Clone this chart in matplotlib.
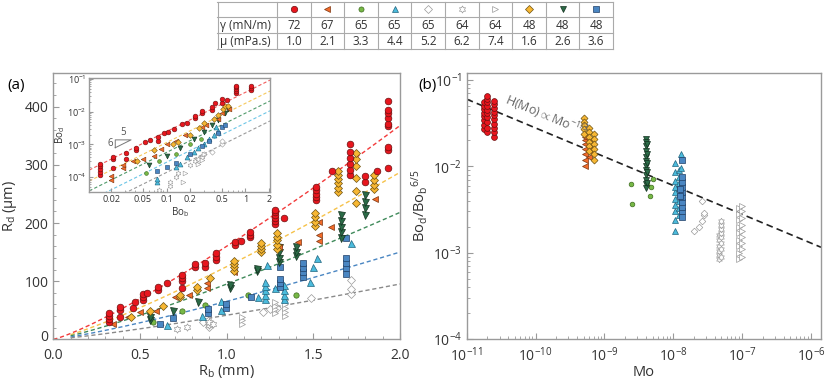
import numpy as np
import matplotlib
matplotlib.use('Agg')
import matplotlib.pyplot as plt
from matplotlib.path import Path
from matplotlib.transforms import ScaledTranslation
from matplotlib.ticker import MultipleLocator, LogLocator, NullFormatter, FixedLocator, LogFormatterSciNotation

plt.rcParams['font.family'] = ['Open Sans', 'DejaVu Sans']
plt.rcParams['mathtext.fontset'] = 'custom'
plt.rcParams['mathtext.rm'] = 'Open Sans'
plt.rcParams['mathtext.it'] = 'Open Sans:italic'
plt.rcParams['mathtext.bf'] = 'Open Sans:bold'

# ---------------- fluid table ----------------
gamma_vals = ['72', '67', '65', '65', '65', '64', '64', '48', '48', '48']
mu_vals = ['1.0', '2.1', '3.3', '4.4', '5.2', '6.2', '7.4', '1.6', '2.6', '3.6']
series_keys = ['red', 'orange', 'green', 'lblue', 'odia', 'ostar', 'otri', 'yellow', 'dgreen', 'sblue']

# ---------------- panel (a): R_d (um) vs R_b (mm) ----------------
a_red_rb = [0.32, 0.32, 0.32, 0.32, 0.385, 0.385, 0.385, 0.46, 0.47, 0.52, 0.52, 0.52, 0.54, 0.605, 0.605, 0.655,
            0.74, 0.74, 0.74, 0.74, 0.815, 0.815, 0.875, 0.875, 0.94, 0.94, 0.94, 1.05, 1.05, 1.08, 1.135, 1.135, 1.135,
            1.28, 1.28, 1.28, 1.28, 1.28, 1.28, 1.333, 1.516, 1.516, 1.516, 1.516, 1.516, 1.61,
            1.71, 1.71, 1.71, 1.71, 1.71, 1.71, 1.80, 1.80, 1.87,
            1.93, 1.93, 1.93, 1.93, 1.93, 1.93, 1.93, 1.93, 1.93]
a_red_rd = [30, 35, 40, 45, 38, 50, 55, 53, 65, 68, 72, 78, 79, 85, 90, 96,
            88, 100, 105, 110, 124, 130, 125, 131, 136, 142, 148, 162, 168, 169, 176, 180, 185,
            198, 204, 209, 214, 219, 223, 208, 240, 245, 250, 256, 262, 290,
            282, 292, 302, 312, 322, 336, 270, 281, 289,
            294, 326, 331, 366, 371, 380, 389, 394, 410]
a_yel_rb = [0.45, 0.56, 0.635, 0.73, 0.73, 0.83, 0.83, 0.905, 1.044, 1.044, 1.044, 1.044, 1.197, 1.197, 1.197, 1.197,
            1.29, 1.29, 1.29, 1.29, 1.29, 1.51, 1.51, 1.51, 1.51, 1.64, 1.64, 1.64, 1.64, 1.64, 1.64,
            1.747, 1.747, 1.747, 1.747, 1.747, 1.747, 1.85, 1.85, 1.85, 1.85]
a_yel_rd = [39, 48, 57, 73, 77, 85, 90, 106, 118, 124, 130, 135, 150, 155, 160, 165,
            155, 162, 170, 176, 182, 195, 202, 210, 218, 254, 261, 268, 275, 283, 290,
            235, 255, 277, 298, 310, 320, 258, 266, 274, 282]
a_orn_rb = [0.346, 0.43, 0.50, 0.59, 0.70, 0.78, 0.885, 0.885, 1.04, 1.30, 1.41, 1.535, 1.535, 1.535, 1.60, 1.856]
a_orn_rd = [27, 39, 47, 49, 72, 76, 88, 96, 116, 158, 168, 169, 179, 202, 194, 241]
a_grn_rb = [0.575, 0.745, 0.875, 1.125, 1.40]
a_grn_rd = [30, 48, 59, 76, 76]
a_dgr_rb = [0.56, 0.56, 0.69, 0.835, 1.02, 1.02, 1.177, 1.177, 1.30, 1.30, 1.30, 1.30, 1.40, 1.40, 1.40,
            1.658, 1.658, 1.658, 1.658, 1.658, 1.80, 1.80, 1.80, 1.80]
a_dgr_rd = [33, 38, 49, 65, 88, 93, 117, 121, 133, 140, 150, 159, 143, 150, 158,
            174, 184, 194, 204, 214, 214, 225, 236, 248]
a_lbl_rb = [0.655, 0.86, 0.965, 0.965, 1.18, 1.22, 1.22, 1.22, 1.22, 1.22, 1.23, 1.28,
            1.333, 1.333, 1.333, 1.333, 1.48, 1.50, 1.523, 1.72]
a_lbl_rd = [25, 40, 51, 66, 73, 70, 77, 84, 91, 99, 127, 88, 70, 77, 85, 93, 99, 125, 139, 166]
a_sbl_rb = [0.615, 0.69, 0.895, 0.895, 0.995, 0.995, 1.14, 1.31, 1.31, 1.31, 1.31, 1.443, 1.443, 1.443, 1.443,
            1.687, 1.687, 1.687, 1.687, 1.69]
a_sbl_rd = [27, 36, 45, 52, 53, 60, 73, 90, 97, 104, 125, 108, 116, 123, 131, 113, 122, 131, 140, 174]
a_odi_rb = [0.865, 0.90, 0.90, 1.21, 1.25, 1.29, 1.487, 1.72, 1.72, 1.72]
a_odi_rd = [30, 22, 27, 47, 52, 54, 71, 78, 87, 102]
a_ost_rb = [0.712, 0.77, 0.89, 0.90, 0.90, 0.92]
a_ost_rd = [17, 22, 33, 24, 29, 27]
a_ort_rb = [1.087, 1.087, 1.087, 1.28, 1.28, 1.28, 1.28, 1.337, 1.337, 1.337, 1.337, 1.337]
a_ort_rd = [27, 33, 39, 46, 52, 58, 64, 40, 47, 54, 61, 68]

# power-law (6/5) fit prefactors, panel (a) and inset
fit_a_coef = [160, 125, 95, 65.3, 41.4]
fit_a_start = [0.0, 0.1, 0.1, 0.1, 0.1]
fit_in_coef = [0.039, 0.018, 0.009, 0.0045, 0.0022]
fit_exp = 6 / 5

# ---------------- inset: Bo_d vs Bo_b ----------------
i_red_bob = [0.0145] * 5 + [0.0207, 0.0207, 0.021, 0.031, 0.031, 0.041, 0.041, 0.054, 0.061, 0.077, 0.077,
             0.093, 0.103, 0.125, 0.158, 0.183, 0.228, 0.228, 0.28, 0.28, 0.376, 0.376, 0.41, 0.50, 0.50, 0.58] \
            + [0.77] * 5 + [1.17] * 3
i_red_bod = [1.15e-4, 1.4e-4, 1.8e-4, 2.2e-4, 2.6e-4, 3.5e-4, 4.0e-4, 1.9e-4, 3.5e-4, 5.3e-4, 6.7e-4, 8.0e-4,
             1.2e-3, 1.35e-3, 1.3e-3, 1.7e-3, 2.3e-3, 2.4e-3, 2.9e-3, 4.1e-3, 4.6e-3, 6.3e-3, 7.4e-3, 9e-3,
             1.05e-2, 1.1e-2, 1.4e-2, 1.9e-2, 1.8e-2, 2.4e-2, 2.2e-2, 3.7e-2, 4.3e-2, 4.9e-2, 5.5e-2, 6.2e-2,
             4.5e-2, 5.3e-2, 6.2e-2]
i_yel_bob = [0.042, 0.07, 0.12, 0.14, 0.2, 0.26, 0.3, 0.4, 0.45, 0.52, 0.55, 0.6]
i_yel_bod = [3.0e-4, 6.5e-4, 1.0e-3, 1.2e-3, 2.0e-3, 3.2e-3, 4.5e-3, 6e-3, 8e-3, 1.2e-2, 1.45e-2, 1.5e-2]
i_orn_bob = [0.0195, 0.0195, 0.028, 0.028, 0.038, 0.05, 0.07, 0.085, 0.1, 0.13, 0.17, 0.28, 0.32, 0.45, 0.5, 0.62]
i_orn_bod = [8e-5, 1.05e-4, 1.9e-4, 2.3e-4, 3.0e-4, 3.5e-4, 4.5e-4, 7e-4, 1.0e-3, 1.3e-3, 2.0e-3, 3.5e-3,
             4.0e-3, 6e-3, 9e-3, 1.2e-2]
i_grn_bob = [0.055, 0.08, 0.13, 0.2, 0.27]
i_grn_bod = [1.3e-4, 3.0e-4, 5e-4, 1.0e-3, 1.5e-3]
i_dgr_bob = [0.06, 0.1, 0.15, 0.22, 0.3, 0.38, 0.45, 0.55, 0.6]
i_dgr_bod = [2.4e-4, 4.5e-4, 8e-4, 1.5e-3, 2.4e-3, 4e-3, 5.5e-3, 9e-3, 1.2e-2]
i_lbl_bob = [0.075, 0.075, 0.13, 0.15, 0.18, 0.22, 0.25, 0.3, 0.35, 0.4, 0.45, 0.43]
i_lbl_bod = [7e-5, 9e-5, 2e-4, 2.5e-4, 4e-4, 6e-4, 8e-4, 1e-3, 1.5e-3, 2e-3, 2.6e-3, 3.5e-3]
i_sbl_bob = [0.075, 0.1, 0.13, 0.2, 0.28, 0.35, 0.45, 0.5, 0.55]
i_sbl_bod = [1.5e-4, 2e-4, 2.7e-4, 5e-4, 9e-4, 1.3e-3, 2.3e-3, 3.3e-3, 4e-3]
i_odi_bob = [0.25, 0.27, 0.3, 0.38, 0.5, 0.5]
i_odi_bod = [3e-4, 4e-4, 5e-4, 6e-4, 1.0e-3, 1.25e-3]
i_ost_bob = [0.08, 0.11, 0.11, 0.13, 0.14, 0.2, 0.23, 0.25, 0.28]
i_ost_bod = [4e-5, 5.5e-5, 7e-5, 1.0e-4, 1.3e-4, 2.4e-4, 3e-4, 3.6e-4, 4.2e-4]
i_ort_bob = [0.16, 0.17, 0.25, 0.28, 0.3]
i_ort_bod = [7e-5, 1.3e-4, 2.5e-4, 3.3e-4, 5e-4]

# ---------------- panel (b): Bo_d/Bo_b^(6/5) vs Mo ----------------
b_red_mo = [1.8e-11] * 8 + [2.0e-11] * 10 + [2.5e-11] * 10
b_red_y = [0.027, 0.030, 0.034, 0.038, 0.042, 0.046, 0.050, 0.055,
           0.025, 0.028, 0.033, 0.037, 0.041, 0.045, 0.050, 0.055, 0.060, 0.065,
           0.022, 0.025, 0.028, 0.031, 0.035, 0.039, 0.043, 0.048, 0.053, 0.057]
b_orn_mo = [5.2e-10] * 7 + [6.0e-10] * 4
b_orn_y = [0.0102, 0.012, 0.014, 0.016, 0.018, 0.020, 0.022, 0.013, 0.015, 0.017, 0.019]
b_yel_mo = [5.0e-10] * 5 + [6.0e-10] * 6 + [7.0e-10] * 6
b_yel_y = [0.036, 0.033, 0.030, 0.027, 0.024, 0.028, 0.025, 0.022, 0.019, 0.017, 0.015,
           0.024, 0.021, 0.018, 0.016, 0.014, 0.012]
b_dgr_mo = [4.0e-9] * 12 + [4.2e-9] * 5
b_dgr_y = [0.021, 0.019, 0.017, 0.015, 0.013, 0.0115, 0.010, 0.009, 0.008, 0.007, 0.0063, 0.0056,
           0.018, 0.014, 0.011, 0.0085, 0.0065]
b_grn_mo = [2.4e-9, 2.55e-9, 4.1e-9, 4.6e-9, 4.7e-9, 5.1e-9]
b_grn_y = [0.0063, 0.0037, 0.0062, 0.0045, 0.0057, 0.0072]
b_lbl_mo = [1.05e-8] * 10 + [1.2e-8] * 8 + [1.3e-8] * 3
b_lbl_y = [0.0018, 0.0024, 0.003, 0.0036, 0.0042, 0.005, 0.0058, 0.0068, 0.0085, 0.011,
           0.0027, 0.0033, 0.004, 0.0048, 0.0056, 0.0065, 0.0075, 0.009, 0.014, 0.0095, 0.006]
b_sbl_mo = [1.35e-8] * 10 + [1.25e-8] * 2
b_sbl_y = [0.0026, 0.003, 0.0034, 0.0039, 0.0044, 0.005, 0.0057, 0.0066, 0.0076, 0.0118, 0.0045, 0.0055]
b_odi_mo = [2.0e-8, 2.4e-8, 2.6e-8, 2.8e-8, 2.8e-8, 2.65e-8]
b_odi_y = [0.0018, 0.0020, 0.0023, 0.0027, 0.0029, 0.0040]
b_ost_mo = [4.6e-8] * 6 + [5.0e-8] * 8
b_ost_y = [0.00085, 0.00095, 0.00105, 0.0012, 0.0014, 0.0016,
           0.0009, 0.0011, 0.0013, 0.0015, 0.0017, 0.0019, 0.0021, 0.0023]
b_ort_mo = [9.0e-8] * 9 + [1.0e-7] * 9
b_ort_y = [0.00085, 0.001, 0.0012, 0.0014, 0.0017, 0.002, 0.0024, 0.0028, 0.0033,
           0.0009, 0.0011, 0.0013, 0.0015, 0.0018, 0.0021, 0.0025, 0.003, 0.0035]
b_line_x = [1e-11, 1.4e-6]
b_line_c = 0.06   # value at Mo = 1e-11
b_line_exp = -1 / 3
b_xticks = [1e-11, 1e-10, 1e-9, 1e-8, 1e-7, 1e-6]
b_yticks = [1e-4, 1e-3, 1e-2, 1e-1]
inset_yticks = [1e-4, 1e-3, 1e-2, 1e-1]

# ---------------- styles ----------------
star_verts = []
for k in range(12):
    ang = np.pi / 2 + k * np.pi / 6
    r = 1.0 if k % 2 == 0 else 0.577
    star_verts.append((r * np.cos(ang), r * np.sin(ang)))
star_verts.append(star_verts[0])
star_marker = Path(star_verts, closed=True)

GRAY = '#9a9a9a'
style = {
    'red':    dict(marker='o', mfc='#e8161e', mec='#6a1010', scale=1.0),
    'orange': dict(marker='<', mfc='#f26b2a', mec='#7a3510', scale=1.0),
    'green':  dict(marker='o', mfc='#77b846', mec='#3d6b1f', scale=0.8),
    'lblue':  dict(marker='^', mfc='#4bbbdc', mec='#22657e', scale=1.05),
    'odia':   dict(marker='D', mfc='white', mec=GRAY, scale=0.8),
    'ostar':  dict(marker=star_marker, mfc='white', mec=GRAY, scale=1.1),
    'otri':   dict(marker='>', mfc='white', mec=GRAY, scale=1.0),
    'yellow': dict(marker='D', mfc='#f7b733', mec='#6e5212', scale=0.85),
    'dgreen': dict(marker='v', mfc='#2b6b47', mec='#13301f', scale=1.05),
    'sblue':  dict(marker='s', mfc='#4a86c2', mec='#1f3f66', scale=0.9),
}
fit_colors_a = ['#f23a3a', '#f6c24a', '#3f8a5a', '#4a86c2', '#8a8a8a']
fit_colors_in = ['#f25a5a', '#f6c85a', '#4f9a6a', '#6cc6e6', '#9a9a9a']

SPINE = '#9a9a9a'
TXT = '#333333'


def pts(ax, x, y, key, ms, lw=0.5, z=3):
    st = style[key]
    ax.plot(x, y, ls='none', marker=st['marker'], ms=ms * st['scale'], mfc=st['mfc'],
            mec=st['mec'], mew=lw, zorder=z)


def style_axes(ax, fs=10):
    for s in ax.spines.values():
        s.set_color(SPINE)
        s.set_linewidth(1.0)
    ax.tick_params(which='both', direction='in', colors=SPINE, labelcolor=TXT, labelsize=fs)
    ax.tick_params(which='major', length=4, width=0.8)
    ax.tick_params(which='minor', length=2, width=0.6)


def log_minors(lo_exp, hi_exp):
    return [m * 10.0 ** e for e in range(lo_exp, hi_exp) for m in range(2, 10)]


fig = plt.figure(figsize=(8.31, 3.79), dpi=100)

# ---------- panel (a) ----------
axa = fig.add_axes([53.3 / 831, 1 - 339.3 / 379, 346.7 / 831, 266.3 / 379])
style_axes(axa)
axa.tick_params(axis='x', which='major', pad=6)
for c, x0, col in zip(fit_a_coef, fit_a_start, fit_colors_a):
    xx = np.linspace(x0, 2.0, 100)
    axa.plot(xx, c * xx ** fit_exp, ls=(0, (3, 2)), lw=1.0, color=col, zorder=1)

a_sets = [('odia', a_odi_rb, a_odi_rd), ('ostar', a_ost_rb, a_ost_rd), ('otri', a_ort_rb, a_ort_rd),
          ('green', a_grn_rb, a_grn_rd), ('lblue', a_lbl_rb, a_lbl_rd), ('sblue', a_sbl_rb, a_sbl_rd),
          ('dgreen', a_dgr_rb, a_dgr_rd), ('orange', a_orn_rb, a_orn_rd), ('yellow', a_yel_rb, a_yel_rd),
          ('red', a_red_rb, a_red_rd)]
for key, x, y in a_sets:
    pts(axa, x, y, key, ms=4.8)
axa.set_xlim(0, 2.0)
axa.set_ylim(0, 458)
axa.xaxis.set_major_locator(FixedLocator([0.0, 0.5, 1.0, 1.5, 2.0]))
axa.xaxis.set_minor_locator(FixedLocator([v / 10 for v in range(1, 20) if v % 5]))
axa.yaxis.set_major_locator(FixedLocator([0, 100, 200, 300, 400]))
axa.yaxis.set_minor_locator(FixedLocator([v for v in range(20, 460, 20) if v % 100]))
axa.xaxis.set_major_formatter(matplotlib.ticker.FormatStrFormatter('%.1f'))
axa.set_xlabel('R$_\\mathrm{b}$ (mm)', fontsize=10.5, color=TXT, labelpad=0)
axa.set_ylabel('R$_\\mathrm{d}$ (μm)', fontsize=10.5, color=TXT, labelpad=4)
fig.text(7 / 831, 1 - 85 / 379, '(a)', fontsize=11, color='black', va='center', ha='left')

# ---------- inset ----------
axi = fig.add_axes([89.3 / 831, 1 - 192 / 379, 180.7 / 831, 114 / 379])
axi.set_facecolor('white')
style_axes(axi, fs=6.5)
axi.set_xscale('log')
axi.set_yscale('log')
xx = np.logspace(np.log10(0.0105), np.log10(2.05), 50)
for c, col in zip(fit_in_coef, fit_colors_in):
    axi.plot(xx, c * xx ** fit_exp, ls=(0, (3, 2)), lw=0.8, color=col, zorder=1)
i_sets = [('odia', i_odi_bob, i_odi_bod), ('ostar', i_ost_bob, i_ost_bod), ('otri', i_ort_bob, i_ort_bod),
          ('green', i_grn_bob, i_grn_bod), ('lblue', i_lbl_bob, i_lbl_bod), ('sblue', i_sbl_bob, i_sbl_bod),
          ('dgreen', i_dgr_bob, i_dgr_bod), ('orange', i_orn_bob, i_orn_bod), ('yellow', i_yel_bob, i_yel_bod),
          ('red', i_red_bob, i_red_bod)]
for key, x, y in i_sets:
    pts(axi, x, y, key, ms=3.4, lw=0.4)
axi.set_xlim(0.0105, 2.05)
axi.set_ylim(3.5e-5, 0.107)
inset_xticks = [0.02, 0.05, 0.1, 0.2, 0.5, 1, 2]
inset_xlabels = ['0.02', '0.05', '0.1', '0.2', '0.5', '1', '2']
axi.xaxis.set_major_locator(FixedLocator(inset_xticks))
axi.set_xticklabels(inset_xlabels)
axi.xaxis.set_minor_locator(FixedLocator([v for v in log_minors(-2, 1) if 0.0105 <= v <= 2.05
                                          and v not in inset_xticks]))
axi.xaxis.set_minor_formatter(NullFormatter())
axi.yaxis.set_major_locator(FixedLocator(inset_yticks))
axi.yaxis.set_major_formatter(LogFormatterSciNotation())
axi.yaxis.set_minor_locator(FixedLocator([v for v in log_minors(-5, -1) if 3.5e-5 <= v <= 0.107]))
axi.yaxis.set_minor_formatter(NullFormatter())
axi.tick_params(which='major', pad=2, length=3)
axi.tick_params(which='minor', length=1.5)
axi.set_xlabel('Bo$_\\mathrm{b}$', fontsize=7, color=TXT, labelpad=1)
axi.set_ylabel('Bo$_\\mathrm{d}$', fontsize=7, color=TXT, labelpad=0)
# slope triangle 6/5
tx0, ty0 = 0.0224, 7.9e-4
tx1 = tx0 * 10 ** 0.2
ty1 = ty0 * 10 ** (0.2 * fit_exp)
axi.plot([tx0, tx1, tx0, tx0], [ty0, ty1, ty1, ty0], color='#777777', lw=0.7, zorder=2)
axi.text(np.sqrt(tx0 * tx1), ty1 * 1.12, '5', fontsize=7, color='#555555', ha='center', va='bottom')
axi.text(tx0 * 0.93, np.sqrt(ty0 * ty1), '6', fontsize=7, color='#555555', ha='right', va='center')

# ---------- panel (b) ----------
axb = fig.add_axes([466.7 / 831, 1 - 339 / 379, 354.3 / 831, 266.3 / 379])
style_axes(axb)
axb.tick_params(axis='x', which='major', pad=5)
axb.set_xscale('log')
axb.set_yscale('log')
lx = np.array(b_line_x)
axb.plot(lx, b_line_c * (lx / 1e-11) ** b_line_exp, ls=(0, (4, 2.5)), lw=1.2, color='#222222', zorder=2)
b_sets = [('odia', b_odi_mo, b_odi_y), ('ostar', b_ost_mo, b_ost_y), ('otri', b_ort_mo, b_ort_y),
          ('green', b_grn_mo, b_grn_y), ('lblue', b_lbl_mo, b_lbl_y), ('sblue', b_sbl_mo, b_sbl_y),
          ('dgreen', b_dgr_mo, b_dgr_y), ('orange', b_orn_mo, b_orn_y), ('yellow', b_yel_mo, b_yel_y),
          ('red', b_red_mo, b_red_y)]
for key, x, y in b_sets:
    pts(axb, x, y, key, ms=4.2, z=3)
axb.set_xlim(1e-11, 1.4e-6)
axb.set_ylim(1e-4, 0.1216)
axb.xaxis.set_major_locator(FixedLocator(b_xticks))
axb.xaxis.set_major_formatter(LogFormatterSciNotation())
axb.xaxis.set_minor_locator(FixedLocator([v for v in log_minors(-11, -5) if v <= 1.4e-6]))
axb.xaxis.set_minor_formatter(NullFormatter())
axb.yaxis.set_major_locator(FixedLocator(b_yticks))
axb.yaxis.set_major_formatter(LogFormatterSciNotation())
axb.yaxis.set_minor_locator(FixedLocator([v for v in log_minors(-4, 0) if v <= 0.1216]))
axb.yaxis.set_minor_formatter(NullFormatter())
axb.set_xlabel('Mo', fontsize=10.5, color=TXT, labelpad=0)
axb.set_ylabel('Bo$_\\mathrm{d}$/Bo$_\\mathrm{b}$$^{6/5}$', fontsize=10.5, color=TXT, labelpad=2)
axb.text(3.3e-11, 0.047, 'H(Mo)$\\propto$Mo$^{-1/3}$', fontsize=9, color='#666666',
         rotation=-22.5, rotation_mode='anchor', ha='left', va='bottom', zorder=4)
fig.text(418 / 831, 1 - 85 / 379, '(b)', fontsize=11, color='black', va='center', ha='left')

# ---------- table ----------
axt = fig.add_axes([217 / 831, 1 - 50 / 379, 396 / 831, 49 / 379])
axt.set_xlim(0, 396)
axt.set_ylim(49, 0)
axt.axis('off')
first_w = 60
col_w = (396 - first_w) / 10
row_edges = [0.5, 16.5, 32.5, 48.5]
for yv in row_edges:
    axt.plot([0, 396], [yv, yv], color='#aaaaaa', lw=0.8, clip_on=False)
col_edges = [0.5, first_w] + [first_w + col_w * (i + 1) for i in range(10)]
col_edges[-1] = 395.5
for xv in col_edges:
    axt.plot([xv, xv], [0.5, 48.5], color='#aaaaaa', lw=0.8, clip_on=False)
axt.text(3, 24.5, 'γ (mN/m)', fontsize=8.5, color=TXT, va='center', ha='left')
axt.text(3, 40.5, 'μ (mPa.s)', fontsize=8.5, color=TXT, va='center', ha='left')
for i, key in enumerate(series_keys):
    cx = first_w + col_w * (i + 0.5)
    pts(axt, [cx], [8.5], key, ms=4.6)
    axt.text(cx, 24.5, gamma_vals[i], fontsize=8.5, color=TXT, ha='center', va='center')
    axt.text(cx, 40.5, mu_vals[i], fontsize=8.5, color=TXT, ha='center', va='center')

# lift the "0" label of panel (a) slightly, as in the reference
fig.canvas.draw()
for tk in axa.yaxis.get_major_ticks():
    if tk.get_loc() == 0:
        lab = tk.label1
        lab.set_transform(lab.get_transform() + ScaledTranslation(0, 4 / 100, fig.dpi_scale_trans))

fig.savefig('out.png', dpi=100)
